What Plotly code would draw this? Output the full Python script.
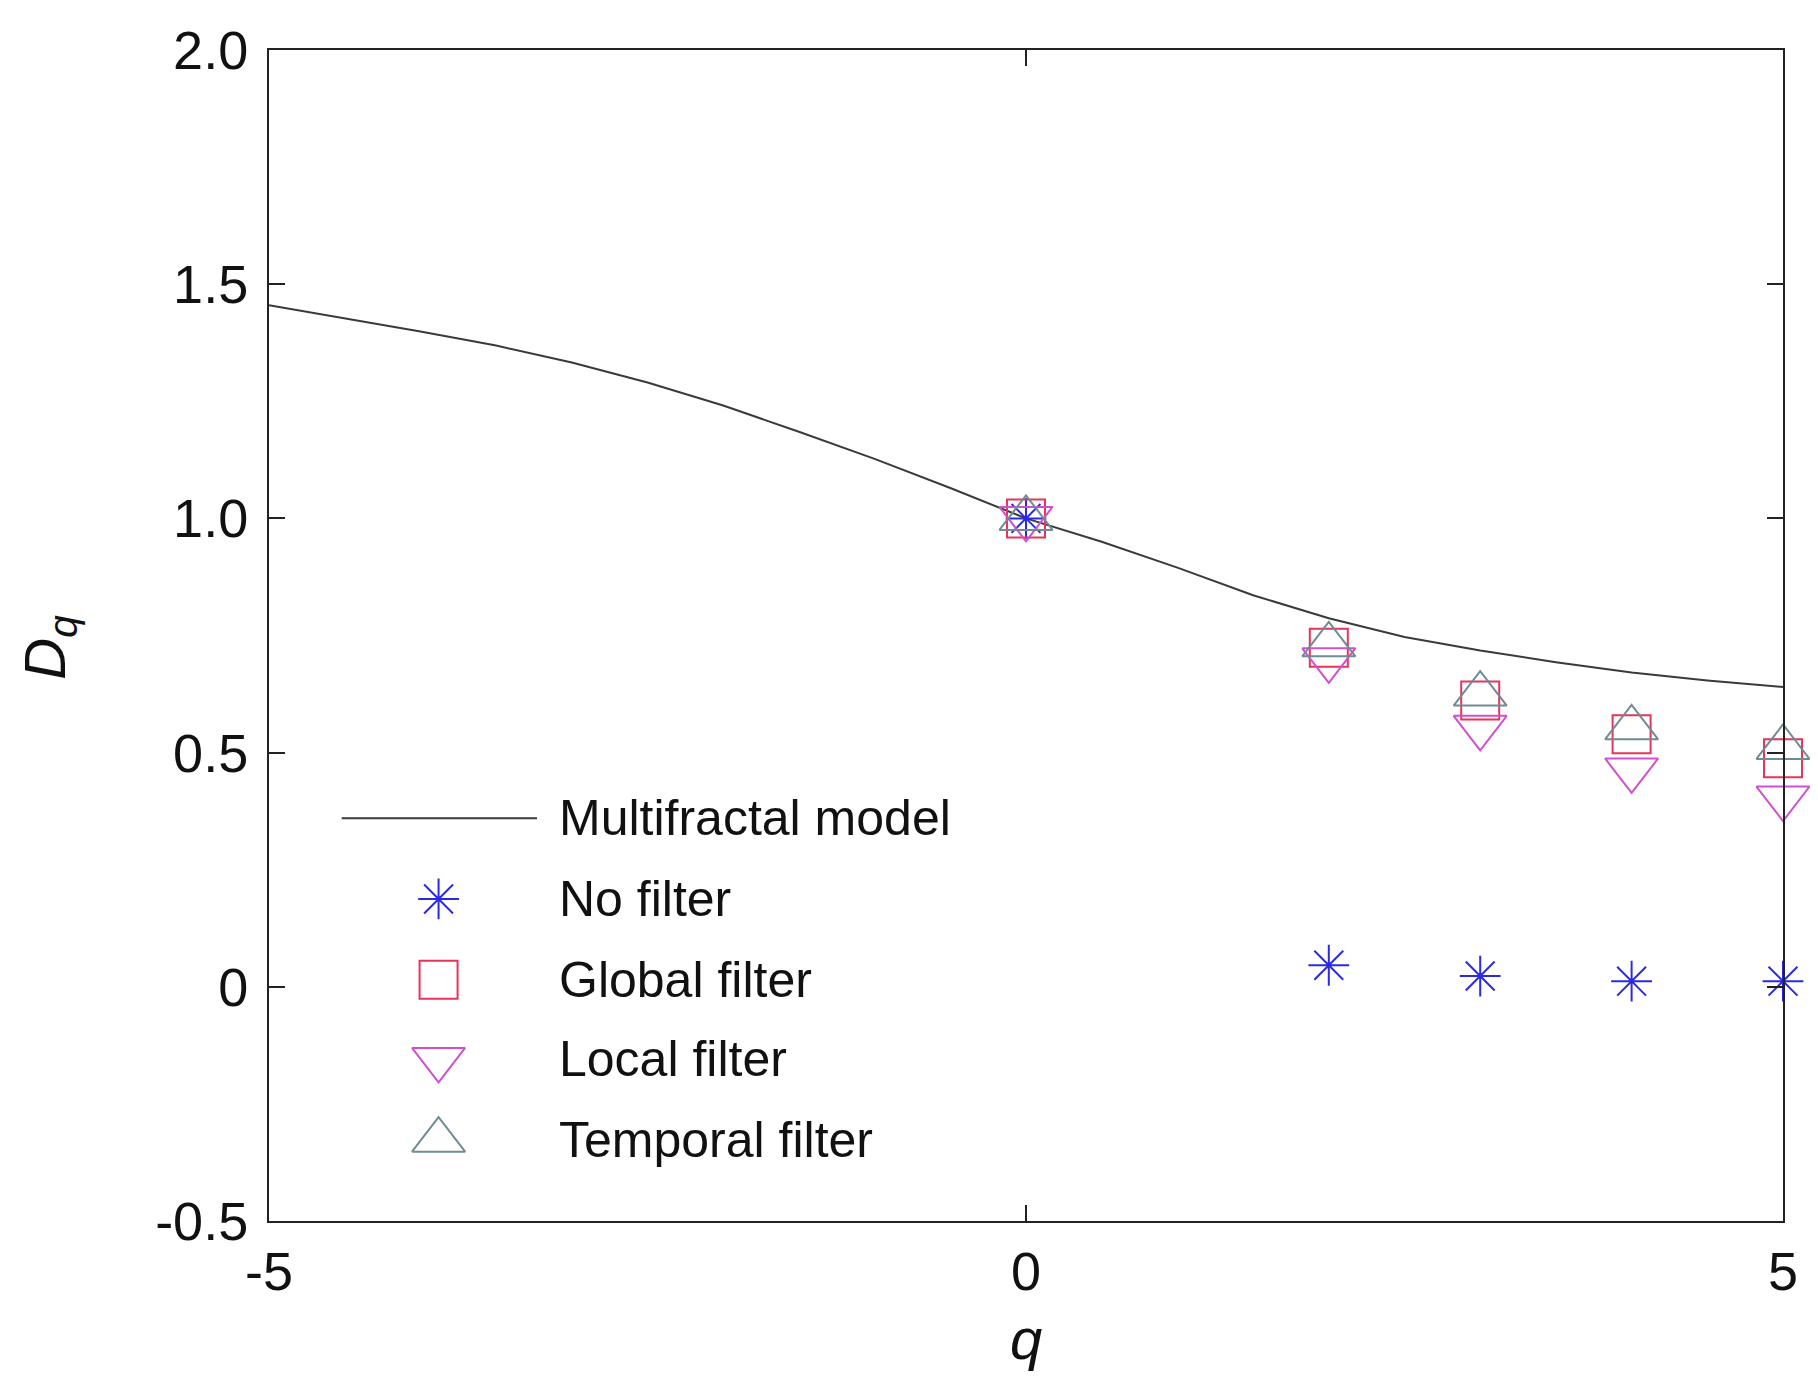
import plotly.graph_objects as go

# ---- data ----
q_model = [-5, -4.5, -4, -3.5, -3, -2.5, -2, -1.5, -1, -0.5, 0, 0.5, 1, 1.5, 2, 2.5, 3, 3.5, 4, 4.5, 5]
D_model = [1.455, 1.427, 1.399, 1.369, 1.333, 1.290, 1.241, 1.185, 1.127, 1.065, 1.0, 0.950, 0.895,
           0.836, 0.787, 0.747, 0.718, 0.693, 0.671, 0.654, 0.640]

q_pts = [0, 2, 3, 4, 5]
D_no_filter = [1.0, 0.046, 0.023, 0.012, 0.012]
D_global = [1.0, 0.724, 0.611, 0.539, 0.488]
D_local = [1.0, 0.698, 0.554, 0.463, 0.403]
D_temporal = [1.0, 0.730, 0.625, 0.553, 0.511]

y_tickvals = [-0.5, 0, 0.5, 1.0, 1.5, 2.0]
y_ticktext = ["-0.5", "0", "0.5", "1.0", "1.5", "2.0"]
x_tickvals = [-5, 0, 5]
x_ticktext = ["-5", "0", "5"]

legend_names = ["Multifractal model", "No filter", "Global filter", "Local filter", "Temporal filter"]

# ---- styles ----
FONT = "Liberation Sans, Arial, sans-serif"
C_LINE = "#3a3a3a"
C_STAR = "#2a2ae6"
C_SQ = "#e8335a"
C_DOWN = "#d050d0"
C_UP = "#6f8c94"

series = [
    (D_no_filter, "asterisk-open", C_STAR, 34),
    (D_global, "square-open", C_SQ, 38),
    (D_local, "triangle-down-open", C_DOWN, 46),
    (D_temporal, "triangle-up-open", C_UP, 46),
]

fig = go.Figure()
fig.add_trace(go.Scatter(x=q_model, y=D_model, mode="lines", line=dict(color=C_LINE, width=2),
                         name=legend_names[0], showlegend=False))
for (vals, sym, col, sz), name in zip(series, legend_names[1:]):
    fig.add_trace(go.Scatter(x=q_pts, y=vals, mode="markers", name=name, showlegend=False,
                             cliponaxis=False,
                             marker=dict(symbol=sym, size=sz, color=col, line=dict(color=col, width=2))))

# ---- hand-made legend (no box), in plot-area fractions ----
leg_rows = [0.344, 0.275, 0.206, 0.138, 0.069]
leg_marker_x = 0.112
leg_text_x = 0.190
fig.add_shape(type="line", xref="paper", yref="paper", x0=0.048, x1=0.177,
              y0=leg_rows[0], y1=leg_rows[0], line=dict(color=C_LINE, width=2))
for (vals, sym, col, sz), yy in zip(series, leg_rows[1:]):
    fig.add_trace(go.Scatter(x=[leg_marker_x], y=[yy], xaxis="x2", yaxis="y2", mode="markers",
                             showlegend=False, hoverinfo="skip", cliponaxis=False,
                             marker=dict(symbol=sym, size=sz, color=col, line=dict(color=col, width=2))))
for name, yy in zip(legend_names, leg_rows):
    fig.add_annotation(xref="paper", yref="paper", x=leg_text_x, y=yy, text=name, showarrow=False,
                       xanchor="left", yanchor="middle", font=dict(family=FONT, size=50, color="#111"))

# axis titles
fig.add_annotation(xref="paper", yref="paper", x=-0.145, y=0.49, text="<i>D<sub>q</sub></i>",
                   textangle=-90, showarrow=False, xanchor="center", yanchor="middle",
                   font=dict(family=FONT, size=58, color="#111"))
fig.add_annotation(xref="paper", yref="paper", x=0.5, y=-0.10, text="<i>q</i>",
                   showarrow=False, xanchor="center", yanchor="middle",
                   font=dict(family=FONT, size=58, color="#111"))

axis_common = dict(showline=True, linecolor="#222", linewidth=2, mirror="allticks",
                   ticks="inside", ticklen=16, tickwidth=2, tickcolor="#222",
                   showgrid=False, zeroline=False,
                   tickfont=dict(family=FONT, size=54, color="#111"))

# the page body adds an 8px margin, so the figure is sized to fit the window
fig.update_layout(
    width=1802, height=1373,
    margin=dict(l=261, r=27, t=33, b=160),
    paper_bgcolor="white", plot_bgcolor="white",
    showlegend=False,
    xaxis=dict(range=[-5, 5], tickvals=x_tickvals, ticktext=x_ticktext, ticklabelstandoff=2, **axis_common),
    yaxis=dict(range=[-0.5, 2.0], tickvals=y_tickvals, ticktext=y_ticktext, ticklabelstandoff=8, **axis_common),
    xaxis2=dict(range=[0, 1], overlaying="x", visible=False, fixedrange=True),
    yaxis2=dict(range=[0, 1], overlaying="y", visible=False, fixedrange=True),
)

fig.write_html("out.html")
